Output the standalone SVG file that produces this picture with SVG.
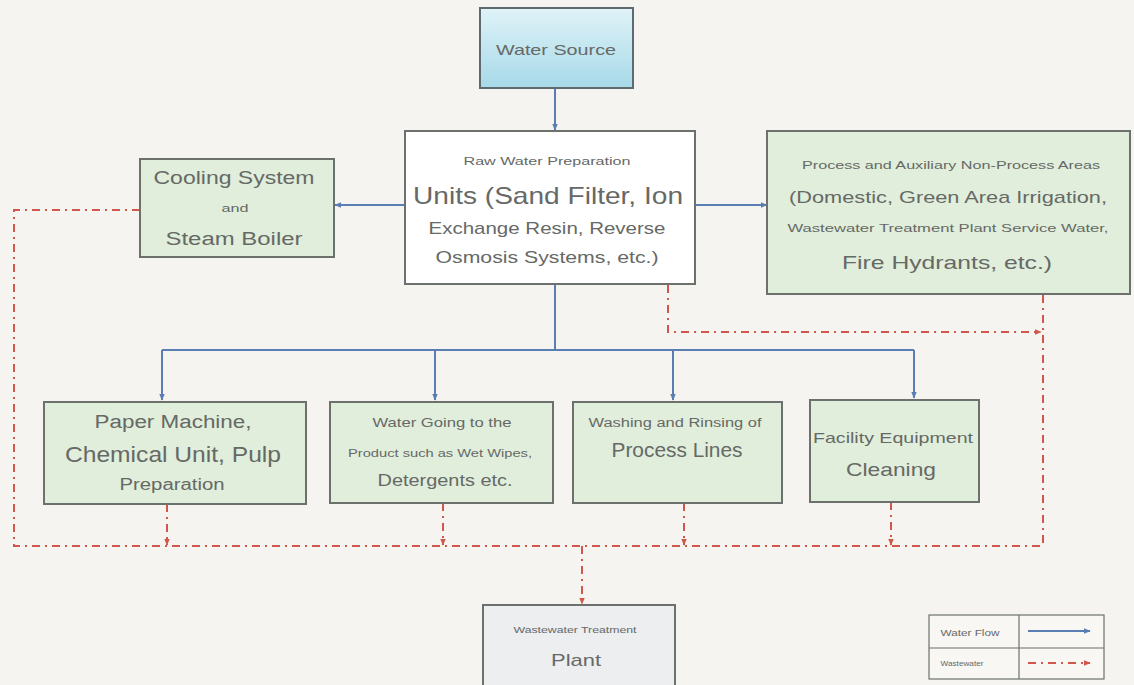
<svg xmlns="http://www.w3.org/2000/svg" width="1134" height="685" viewBox="0 0 1134 685">
<style>
text{font-family:"Liberation Sans","DejaVu Sans",Arial,sans-serif;fill:#666966;text-anchor:middle}
.box{fill:#e0eedb;stroke:#6d716d;stroke-width:2}
.flow{fill:none;stroke:#5a7db3;stroke-width:2}
.waste{fill:none;stroke:#d0574b;stroke-width:2;stroke-dasharray:8 5 2 5}
</style>
<defs>
<linearGradient id="gs" x1="0" y1="0" x2="0" y2="1">
<stop offset="0" stop-color="#e0f3f8"/>
<stop offset="1" stop-color="#a6d9e8"/>
</linearGradient>
<marker id="ab" viewBox="0 0 10 10" refX="9" refY="5" markerWidth="7" markerHeight="7" orient="auto" markerUnits="userSpaceOnUse">
<path d="M0,1 L10,5 L0,9 Z" fill="#5a7db3"/>
</marker>
<marker id="ar" viewBox="0 0 10 10" refX="9" refY="5" markerWidth="7" markerHeight="7" orient="auto" markerUnits="userSpaceOnUse">
<path d="M0,1 L10,5 L0,9 Z" fill="#d0574b"/>
</marker>
</defs>
<rect width="1134" height="685" fill="#f6f4f0"/>

<g id="connectors">
<path class="flow" d="M555,88 V130" marker-end="url(#ab)"/>
<path class="flow" d="M405,205 H335" marker-end="url(#ab)"/>
<path class="flow" d="M695,205 H767" marker-end="url(#ab)"/>
<path class="flow" d="M555,284 V350"/>
<path class="flow" d="M162,350 H914"/>
<path class="flow" d="M162,350 V400" marker-end="url(#ab)"/>
<path class="flow" d="M435,350 V400" marker-end="url(#ab)"/>
<path class="flow" d="M673,350 V400" marker-end="url(#ab)"/>
<path class="flow" d="M914,350 V398" marker-end="url(#ab)"/>
<path class="waste" d="M140,210 H14 V546 H1043"/>
<path class="waste" d="M1043,295 V546"/>
<path class="waste" d="M668,285 V332 H1041" marker-end="url(#ar)"/>
<path class="waste" d="M167,504 V545" marker-end="url(#ar)"/>
<path class="waste" d="M443,503 V545" marker-end="url(#ar)"/>
<path class="waste" d="M684,503 V545" marker-end="url(#ar)"/>
<path class="waste" d="M891,502 V545" marker-end="url(#ar)"/>
<path class="waste" d="M582,546 V604" marker-end="url(#ar)"/>
</g>

<g id="water-source">
<rect x="480" y="8" width="153" height="80" fill="url(#gs)" stroke="#5f6a6e" stroke-width="2"/>
<text x="556" y="55" font-size="15" textLength="120" lengthAdjust="spacingAndGlyphs" fill="#5f6d72">Water Source</text>
</g>

<g id="raw-water">
<rect x="405" y="131" width="290" height="153" fill="#ffffff" stroke="#6d716d" stroke-width="2"/>
<text x="547" y="165" font-size="11" textLength="167" lengthAdjust="spacingAndGlyphs">Raw Water Preparation</text>
<text x="548" y="204" font-size="24" textLength="270" lengthAdjust="spacingAndGlyphs">Units (Sand Filter, Ion</text>
<text x="547" y="234" font-size="17" textLength="237" lengthAdjust="spacingAndGlyphs">Exchange Resin, Reverse</text>
<text x="547" y="263" font-size="17" textLength="223" lengthAdjust="spacingAndGlyphs">Osmosis Systems, etc.)</text>
</g>

<g id="cooling">
<rect x="140" y="159" width="194" height="98" class="box"/>
<text x="234" y="184" font-size="18" textLength="161" lengthAdjust="spacingAndGlyphs">Cooling System</text>
<text x="235" y="212" font-size="10" textLength="27" lengthAdjust="spacingAndGlyphs">and</text>
<text x="234" y="245" font-size="18" textLength="137" lengthAdjust="spacingAndGlyphs">Steam Boiler</text>
</g>

<g id="process-areas">
<rect x="767" y="131" width="363" height="163" class="box"/>
<text x="951" y="169" font-size="11" textLength="298" lengthAdjust="spacingAndGlyphs">Process and Auxiliary Non-Process Areas</text>
<text x="948" y="203" font-size="17" textLength="318" lengthAdjust="spacingAndGlyphs">(Domestic, Green Area Irrigation,</text>
<text x="948" y="232" font-size="11" textLength="321" lengthAdjust="spacingAndGlyphs">Wastewater Treatment Plant Service Water,</text>
<text x="947" y="269" font-size="19" textLength="210" lengthAdjust="spacingAndGlyphs">Fire Hydrants, etc.)</text>
</g>

<g id="paper-machine">
<rect x="44" y="402" width="262" height="102" class="box"/>
<text x="173" y="428" font-size="18" textLength="157" lengthAdjust="spacingAndGlyphs">Paper Machine,</text>
<text x="173" y="462" font-size="22" textLength="216" lengthAdjust="spacingAndGlyphs">Chemical Unit, Pulp</text>
<text x="172" y="490" font-size="16" textLength="105" lengthAdjust="spacingAndGlyphs">Preparation</text>
</g>

<g id="water-product">
<rect x="330" y="402" width="223" height="101" class="box"/>
<text x="442" y="427" font-size="13" textLength="139" lengthAdjust="spacingAndGlyphs">Water Going to the</text>
<text x="440" y="457" font-size="10" textLength="184" lengthAdjust="spacingAndGlyphs">Product such as Wet Wipes,</text>
<text x="445" y="486" font-size="17" textLength="135" lengthAdjust="spacingAndGlyphs">Detergents etc.</text>
</g>

<g id="washing">
<rect x="573" y="402" width="209" height="101" class="box"/>
<text x="675" y="427" font-size="12" textLength="173" lengthAdjust="spacingAndGlyphs">Washing and Rinsing of</text>
<text x="677" y="457" font-size="20" textLength="131" lengthAdjust="spacingAndGlyphs">Process Lines</text>
</g>

<g id="facility">
<rect x="810" y="400" width="169" height="102" class="box"/>
<text x="893" y="443" font-size="15" textLength="160" lengthAdjust="spacingAndGlyphs">Facility Equipment</text>
<text x="891" y="476" font-size="19" textLength="90" lengthAdjust="spacingAndGlyphs">Cleaning</text>
</g>

<g id="wwtp">
<rect x="483" y="605" width="192" height="82" fill="#eceef0" stroke="#6d716d" stroke-width="2"/>
<text x="575" y="633" font-size="9" textLength="123" lengthAdjust="spacingAndGlyphs">Wastewater Treatment</text>
<text x="576" y="666" font-size="17" textLength="50" lengthAdjust="spacingAndGlyphs">Plant</text>
</g>

<g id="legend">
<rect x="929" y="615" width="175" height="64" fill="#f8f7f4" stroke="#6d716d" stroke-width="1.2"/>
<line x1="1019" y1="615" x2="1019" y2="679" stroke="#6d716d" stroke-width="1.2"/>
<line x1="929" y1="648" x2="1104" y2="648" stroke="#6d716d" stroke-width="1.2"/>
<text x="970" y="636" font-size="9" textLength="59" lengthAdjust="spacingAndGlyphs">Water Flow</text>
<text x="962" y="666" font-size="7" textLength="43" lengthAdjust="spacingAndGlyphs">Wastewater</text>
<line x1="1028" y1="631" x2="1090" y2="631" class="flow" marker-end="url(#ab)"/>
<line x1="1028" y1="663" x2="1090" y2="663" class="waste" marker-end="url(#ar)"/>
</g>
</svg>
